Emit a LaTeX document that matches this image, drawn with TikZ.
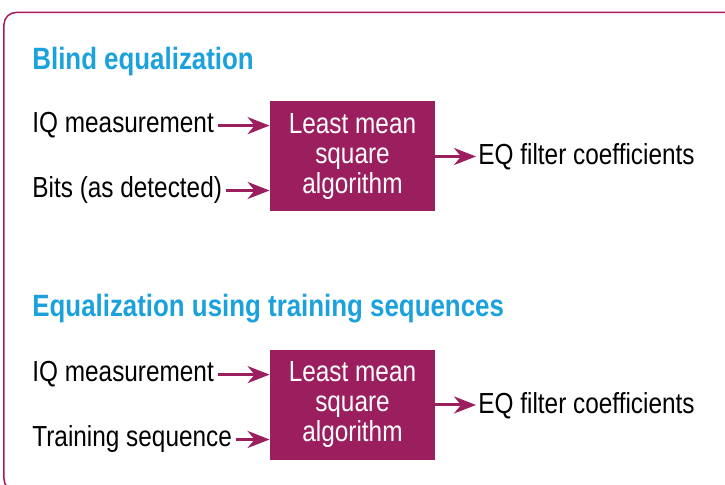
\documentclass[tikz,border=0pt]{standalone}
\usepackage{fontspec}
\setmainfont[FakeStretch=0.84]{Liberation Sans}
\usetikzlibrary{arrows.meta}

\definecolor{eqMagenta}{HTML}{9B1F5F}
\definecolor{eqFrame}{HTML}{A8185F}
\definecolor{eqBlue}{HTML}{1BA1DC}

\tikzset{
  lbl/.style={anchor=base west,inner sep=0pt,font=\fontsize{14.5}{15}\selectfont},
  ttl/.style={anchor=base west,inner sep=0pt,text=eqBlue,font=\fontsize{15.4}{16}\selectfont\bfseries},
  lmsbox/.style={fill=eqMagenta,text=white,align=center,inner sep=0pt,
    minimum width=82.5pt,minimum height=55pt,font=\fontsize{14.5}{15}\selectfont},
  sig/.style={draw=eqMagenta,line width=1.5pt,
    -{Stealth[length=11pt,width=8.5pt,inset=3.5pt]}}
}

\begin{document}
\begin{tikzpicture}[x=0.5pt,y=0.5pt]
  \useasboundingbox (0,0) rectangle (725,485);
  \clip (0,0) rectangle (725,485);
  \draw[eqFrame,line width=0.75pt,rounded corners=6pt] (4,-6) rectangle (760,472.5);

  % Blind equalization
  \node[ttl] (title1) at (32,415) {Blind equalization};
  \node[lmsbox] (lms1) at (352.5,328.5) {Least mean\\square\\algorithm};
  \node[lbl] (iq1) at (32,352) {IQ measurement};
  \node[lbl] (bits) at (32,287) {Bits (as detected)};
  \node[lbl] (eq1) at (478,320) {EQ filter coefficients};
  \draw[sig,shorten <=2pt] (iq1.east) -- (iq1.east -| lms1.west);
  \draw[sig,shorten <=2pt] (bits.east) -- (bits.east -| lms1.west);
  \draw[sig,shorten >=1pt] (lms1.east) -- (lms1.east -| eq1.west);

  % Equalization using training sequences
  \node[ttl] (title2) at (32,168) {Equalization using training sequences};
  \node[lmsbox] (lms2) at (352.5,80) {Least mean\\square\\algorithm};
  \node[lbl] (iq2) at (32,103) {IQ measurement};
  \node[lbl] (train) at (32,38) {Training sequence};
  \node[lbl] (eq2) at (478,71) {EQ filter coefficients};
  \draw[sig,shorten <=2pt] (iq2.east) -- (iq2.east -| lms2.west);
  \draw[sig,shorten <=2pt] (train.east) -- (train.east -| lms2.west);
  \draw[sig,shorten >=1pt] (lms2.east) -- (lms2.east -| eq2.west);
\end{tikzpicture}
\end{document}
